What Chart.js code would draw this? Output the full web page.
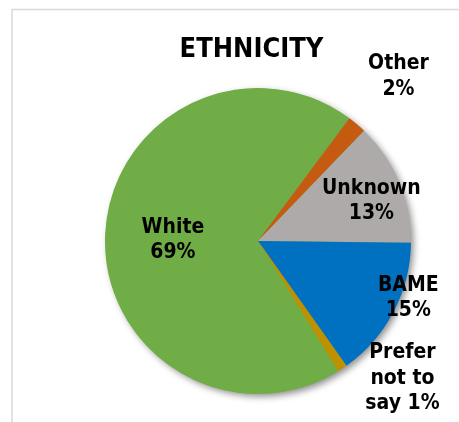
<!DOCTYPE html>
<html>
<head>
<meta charset="utf-8">
<title>Ethnicity</title>
<script src="https://cdn.jsdelivr.net/npm/chart.js@4.4.1/dist/chart.umd.min.js"></script>
<style>
  html, body { margin: 0; padding: 0; background: #ffffff; }
  #wrap { position: relative; width: 459px; height: 422px; }
  canvas { display: block; }
</style>
</head>
<body>
<div id="wrap"><canvas id="c" width="459" height="422"></canvas></div>
<script>
// Ethnicity breakdown (percent of total)
const categories = ['White', 'Other', 'Unknown', 'BAME', 'Prefer not to say'];
const percents = [69, 2, 13, 15, 1];
const chartTitle = 'ETHNICITY';

// Styling
const sliceColors = ['#70AD47', '#C55A11', '#AEAAAA', '#0070C0', '#BF9000'];
const FONT_FAMILY = '"DejaVu Sans Condensed", "DejaVu Sans", Verdana, sans-serif';
const LABEL_SIZE = 21;
const TITLE_SIZE = 27;
const LINE_GAP = 25.5;

// Label text lines per slice (category name + percent)
function labelLines(i) {
  const pct = percents[i] + '%';
  if (categories[i] === 'Prefer not to say') return ['Prefer', 'not to', 'say ' + pct];
  return [categories[i], pct];
}

// Label block centres, as multiples of the pie radius from the pie centre
const labelPlacement = [
  [-0.556, -0.02],
  [0.918, -1.09],
  [0.741, -0.275],
  [0.982, 0.36],
  [0.944, 0.883]
];

const framePlugin = {
  id: 'frame',
  beforeDraw(chart) {
    const ctx = chart.ctx;
    ctx.save();
    ctx.strokeStyle = '#d9d9d9';
    ctx.lineWidth = 1.5;
    ctx.beginPath();
    ctx.moveTo(12, chart.height);
    ctx.lineTo(12, 9.5);
    ctx.lineTo(chart.width, 9.5);
    ctx.stroke();
    ctx.restore();
  }
};

// Soft drop shadow under the whole pie
const shadowPlugin = {
  id: 'pieShadow',
  beforeDatasetsDraw(chart) {
    const arc = chart.getDatasetMeta(0).data[0];
    if (!arc) return;
    const ctx = chart.ctx;
    ctx.save();
    ctx.shadowColor = 'rgba(0,0,0,0.45)';
    ctx.shadowBlur = 7;
    ctx.shadowOffsetX = 3;
    ctx.shadowOffsetY = 3;
    ctx.fillStyle = sliceColors[0];
    ctx.beginPath();
    ctx.arc(arc.x, arc.y, arc.outerRadius - 0.5, 0, Math.PI * 2);
    ctx.fill();
    ctx.restore();
  }
};

const labelPlugin = {
  id: 'sliceLabels',
  afterDatasetsDraw(chart) {
    const meta = chart.getDatasetMeta(0);
    const ctx = chart.ctx;
    ctx.save();
    ctx.fillStyle = '#000000';
    ctx.textAlign = 'center';
    ctx.textBaseline = 'alphabetic';
    ctx.font = 'bold ' + LABEL_SIZE + 'px ' + FONT_FAMILY;
    meta.data.forEach((arc, i) => {
      const r = arc.outerRadius;
      const cx = arc.x + labelPlacement[i][0] * r;
      const cy = arc.y + labelPlacement[i][1] * r;
      const lines = labelLines(i);
      const top = cy - (lines.length - 1) * LINE_GAP / 2;
      lines.forEach((t, k) => {
        ctx.fillText(t, cx, top + k * LINE_GAP + LABEL_SIZE * 0.365);
      });
    });
    // chart title
    ctx.font = 'bold ' + TITLE_SIZE + 'px ' + FONT_FAMILY;
    ctx.fillText(chartTitle, 251.5, 47 + TITLE_SIZE * 0.365);
    ctx.restore();
  }
};

new Chart(document.getElementById('c'), {
  type: 'pie',
  data: {
    labels: categories,
    datasets: [{
      data: percents,
      backgroundColor: sliceColors,
      borderWidth: 0
    }]
  },
  options: {
    responsive: false,
    animation: false,
    rotation: 148.3,
    layout: { padding: { left: 105, right: 48, top: 88, bottom: 28 } },
    plugins: {
      legend: { display: false },
      title: { display: false },
      tooltip: { enabled: false }
    }
  },
  plugins: [framePlugin, shadowPlugin, labelPlugin]
});
</script>
</body>
</html>
